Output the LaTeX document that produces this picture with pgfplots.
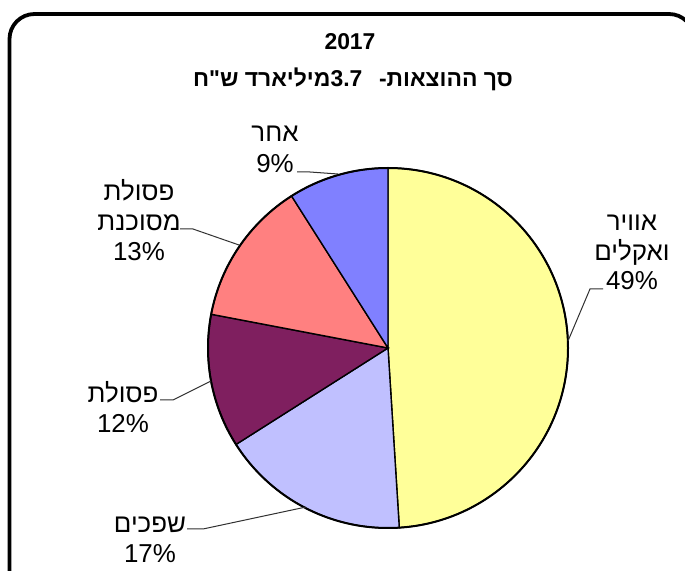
\documentclass[border=0pt]{standalone}
\usepackage{fontspec}
\setmainfont{Liberation Sans}
\newfontfamily\hebfont[Script=Hebrew]{Liberation Sans}
\usepackage{pgfplots}
\usepackage{pgfplotstable}
\pgfplotsset{compat=1.18}
\TeXXeTstate=1

\definecolor{slice0}{HTML}{FFFF99}
\definecolor{slice1}{HTML}{C0C0FF}
\definecolor{slice2}{HTML}{7F1F5F}
\definecolor{slice3}{HTML}{FF8080}
\definecolor{slice4}{HTML}{8080FF}
\definecolor{leader}{HTML}{303030}

% shares in percent, clockwise from 12 o'clock
\pgfplotstableread{
share
49
17
12
13
9
}\piedata

\newcommand{\lab}{\fontsize{26}{30}\selectfont}

\begin{document}
\begin{tikzpicture}
\path[use as bounding box] (0,0) rectangle (685bp,571bp);
\begin{scope}[x=1bp,y=1bp]
  \clip (0,0) rectangle (685,571);
  \draw[line width=3.8bp, rounded corners=25bp] (9.5,-40) rectangle (694,557);
\end{scope}

\begin{axis}[at={(208bp,43bp)}, anchor=south west, scale only axis,
  width=360bp, height=360bp, xmin=-1, xmax=1, ymin=-1, ymax=1,
  hide axis, clip=false]
\pgfplotsextra{%
  \gdef\angstart{90}%
  \pgfplotstableforeachcolumnelement{share}\of\piedata\as\v{%
    \pgfmathsetmacro\angend{\angstart-3.6*\v}%
    \edef\slicecol{slice\pgfplotstablerow}%
    \filldraw[fill=\slicecol, draw=black, line width=1.4bp]
      (axis cs:0,0) -- (axis cs:{cos(\angstart)},{sin(\angstart)})
      arc[start angle=\angstart, end angle=\angend, radius=180bp] -- cycle;
    \xdef\angstart{\angend}%
  }%
  \draw[line width=2bp] (axis cs:0,0) circle[radius=180bp];
}
\end{axis}

\begin{scope}[x=1bp,y=1bp]
  % leader lines
  \draw[leader, line width=1bp] (603,282) -- (590,282) -- (568,230);
  \draw[leader, line width=1bp] (187,42) -- (203,42) -- (306,64);
  \draw[leader, line width=1bp] (160,171) -- (173,171) -- (211,190);
  \draw[leader, line width=1bp] (180,342) -- (193,342) -- (239,326);
  \draw[leader, line width=1bp] (297,399) -- (310,399) -- (338,397);

  % title
  \node[anchor=base, inner sep=0pt, font=\fontsize{23}{26}\selectfont\bfseries] at (350,521) {2017};
  \node[anchor=base, inner sep=0pt, font=\fontsize{23}{26}\selectfont\bfseries] at (353,484)
    {\hebfont\beginR סך ההוצאות- \hspace{0.45em}\beginL3.7\endL{}מיליארד ש"ח\endR};

  % labels
  \node[anchor=base, inner sep=0pt, font=\lab] at (275,429) {\hebfont\beginR אחר\endR};
  \node[anchor=base, inner sep=0pt, font=\lab] at (275,398) {9\%};

  \node[anchor=base, inner sep=0pt, font=\lab] at (139,371) {\hebfont\beginR פסולת\endR};
  \node[anchor=base, inner sep=0pt, font=\lab] at (139,341) {\hebfont\beginR מסוכנת\endR};
  \node[anchor=base, inner sep=0pt, font=\lab] at (139,311) {13\%};

  \node[anchor=base, inner sep=0pt, font=\lab] at (123,169) {\hebfont\beginR פסולת\endR};
  \node[anchor=base, inner sep=0pt, font=\lab] at (123,139) {12\%};

  \node[anchor=base, inner sep=0pt, font=\lab] at (150,39) {\hebfont\beginR שפכים\endR};
  \node[anchor=base, inner sep=0pt, font=\lab] at (150,9) {17\%};

  \node[anchor=base, inner sep=0pt, font=\lab] at (632,341) {\hebfont\beginR אוויר\endR};
  \node[anchor=base, inner sep=0pt, font=\lab] at (632,311) {\hebfont\beginR ואקלים\endR};
  \node[anchor=base, inner sep=0pt, font=\lab] at (632,282) {49\%};
\end{scope}
\end{tikzpicture}
\end{document}
